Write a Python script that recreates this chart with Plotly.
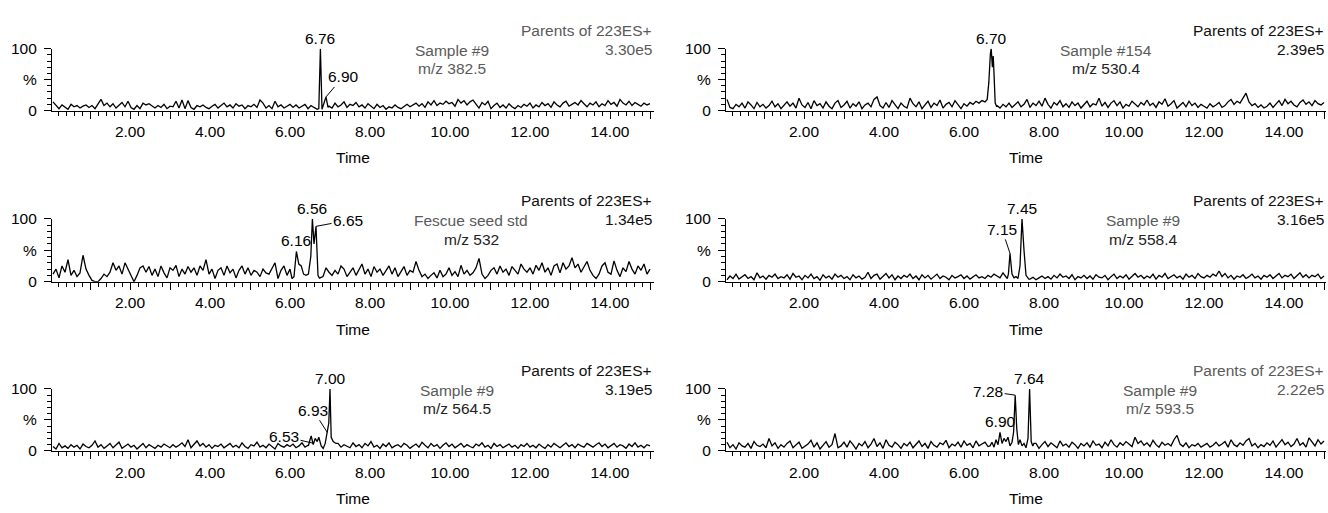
import plotly.graph_objects as go

W, H = 1328, 513

# ---------------- data ----------------
time_grid = [round(0.075 * i, 3) for i in range(1, 201)]

noise_382 = [14, 8, 3, 9, 5, 2, 10, 6, 8, 4, 7, 9, 5, 8, 3, 10, 18, 8, 12, 6,
             11, 4, 9, 13, 6, 15, 5, 2, 8, 3, 12, 9, 11, 7, 4, 8, 5, 10, 3, 7,
             6, 15, 4, 17, 3, 16, 5, 2, 8, 6, 9, 5, 3, 7, 10, 4, 8, 12, 6, 9,
             4, 11, 7, 9, 3, 8, 6, 10, 5, 17, 12, 4, 8, 3, 15, 6, 9, 4, 7, 10,
             5, 9, 4, 7, 10, 3, 8, 5, 0, 0, 0, 0, 7, 4, 12, 6, 9, 14, 5, 10,
             8, 13, 6, 9, 4, 11, 7, 3, 10, 5, 8, 2, 6, 4, 9, 5, 3, 7, 10, 6,
             9, 12, 7, 11, 5, 14, 9, 16, 8, 12, 10, 15, 11, 13, 7, 18, 12, 16, 9, 14,
             17, 10, 4, 13, 9, 15, 3, 8, 12, 5, 9, 4, 11, 6, 3, 8, 5, 10, 7, 12,
             4, 9, 6, 13, 8, 11, 5, 14, 9, 6, 12, 15, 7, 10, 13, 9, 16, 11, 6, 12,
             9, 14, 6, 11, 8, 16, 10, 13, 7, 18, 12, 9, 15, 8, 13, 10, 7, 12, 9, 11]
peak_t_382 = [6.64, 6.68, 6.72, 6.76, 6.80, 6.85, 6.90, 6.95]
peak_v_382 = [4, 2, 3, 100, 2, 14, 22, 5]

noise_530 = [18, 5, 3, 10, 6, 12, 4, 14, 9, 3, 13, 6, 10, 4, 8, 15, 6, 11, 3, 9,
             14, 7, 12, 4, 20, 9, 5, 13, 3, 16, 8, 11, 4, 14, 7, 3, 12, 16, 5, 9,
             15, 4, 11, 7, 14, 3, 9, 12, 6, 18, 22, 8, 4, 13, 5, 16, 10, 3, 12, 7,
             4, 20, 11, 6, 14, 3, 9, 15, 5, 12, 8, 17, 4, 10, 13, 6, 16, 9, 3, 11,
             7, 13, 10, 15, 12, 16, 14, 0, 0, 0, 8, 4, 10, 6, 12, 5, 9, 14, 6, 10,
             18, 5, 12, 8, 15, 7, 20, 10, 4, 13, 9, 16, 6, 11, 5, 14, 8, 12, 4, 10,
             15, 6, 11, 9, 20, 7, 13, 5, 12, 16, 8, 14, 4, 10, 7, 15, 11, 6, 13, 9,
             17, 8, 12, 5, 14, 10, 19, 7, 11, 16, 4, 9, 13, 6, 15, 8, 12, 5, 10, 7,
             4, 11, 6, 9, 13, 5, 8, 14, 18, 10, 15, 12, 20, 28, 14, 8, 11, 5, 9, 4,
             7, 12, 5, 10, 16, 8, 18, 11, 15, 9, 6, 13, 17, 10, 14, 8, 16, 11, 9, 13]
peak_t_530 = [6.58, 6.62, 6.66, 6.68, 6.71, 6.73, 6.75, 6.78, 6.82]
peak_v_530 = [18, 45, 92, 100, 70, 88, 60, 12, 6]

noise_532 = [12, 20, 6, 25, 15, 35, 10, 18, 8, 14, 42, 20, 10, 2, 0, 0, 5, 12, 8, 15,
             30, 18, 25, 12, 30, 20, 8, 0, 10, 22, 25, 15, 24, 10, 20, 8, 25, 14, 6, 22,
             18, 26, 8, 20, 12, 24, 15, 22, 10, 25, 18, 35, 12, 20, 5, 18, 22, 10, 25, 14,
             20, 6, 18, 25, 12, 22, 10, 18, 15, 8, 20, 14, 12, 22, 30, 5, 18, 25, 10, 20,
             0, 0, 0, 0, 0, 0, 0, 0, 0, 6, 8, 22, 15, 10, 18, 12, 25, 20, 8, 15,
             22, 10, 18, 28, 12, 20, 8, 24, 15, 20, 10, 18, 25, 12, 22, 8, 16, 24, 10, 18,
             15, 32, 18, 8, 12, 5, 10, 14, 6, 18, 8, 12, 22, 10, 16, 8, 26, 12, 18, 10,
             14, 22, 37, 12, 5, 10, 18, 22, 12, 25, 15, 20, 10, 24, 18, 12, 28, 20, 15, 22,
             12, 26, 18, 30, 15, 22, 10, 25, 28, 14, 30, 20, 25, 38, 22, 28, 15, 24, 32, 18,
             10, 5, 12, 25, 30, 15, 12, 33, 18, 8, 22, 16, 32, 20, 12, 25, 18, 28, 12, 20]
peak_t_532 = [6.05, 6.10, 6.16, 6.22, 6.28, 6.34, 6.40, 6.46, 6.52, 6.56, 6.60, 6.65, 6.70, 6.74]
peak_v_532 = [5, 8, 48, 28, 25, 12, 10, 12, 40, 100, 60, 88, 10, 5]

noise_558 = [3, 9, 5, 12, 4, 7, 11, 5, 8, 3, 14, 6, 9, 4, 10, 7, 12, 5, 8, 6,
             11, 4, 13, 7, 9, 3, 10, 6, 12, 5, 8, 2, 11, 6, 9, 4, 12, 7, 10, 5,
             8, 3, 11, 6, 9, 4, 7, 15, 5, 10, 12, 4, 8, 13, 6, 11, 3, 9, 5, 10,
             7, 12, 5, 9, 3, 11, 6, 10, 4, 8, 12, 5, 9, 7, 3, 10, 6, 8, 11, 5,
             9, 4, 7, 11, 6, 8, 5, 10, 7, 12, 9, 6, 14, 8, 0, 0, 0, 0, 0, 0,
             0, 4, 7, 3, 6, 9, 5, 8, 4, 10, 6, 12, 7, 9, 5, 11, 3, 8, 6, 10,
             5, 9, 4, 11, 7, 6, 10, 3, 8, 12, 5, 9, 6, 11, 4, 8, 13, 7, 10, 5,
             9, 6, 12, 4, 10, 7, 13, 5, 8, 11, 6, 9, 4, 12, 7, 10, 5, 13, 8, 6,
             10, 7, 12, 9, 17, 8, 13, 6, 10, 4, 9, 7, 11, 5, 8, 12, 6, 9, 4, 10,
             7, 11, 5, 9, 13, 6, 10, 8, 12, 5, 9, 14, 7, 11, 6, 10, 8, 12, 5, 9]
peak_t_558 = [7.08, 7.11, 7.15, 7.20, 7.25, 7.30, 7.35, 7.40, 7.45, 7.50, 7.55, 7.62]
peak_v_558 = [5, 12, 45, 12, 6, 8, 5, 25, 100, 50, 10, 4]

noise_564 = [7, 3, 12, 5, 8, 4, 10, 6, 9, 3, 11, 7, 5, 9, 16, 6, 10, 4, 8, 12,
             5, 9, 14, 4, 7, 11, 6, 9, 3, 8, 12, 5, 10, 7, 4, 9, 6, 11, 8, 5,
             10, 6, 9, 13, 7, 18, 5, 11, 16, 8, 12, 6, 10, 4, 9, 7, 11, 5, 8, 12,
             6, 9, 5, 13, 7, 4, 10, 8, 14, 6, 9, 5, 11, 7, 3, 12, 8, 6, 10, 7,
             11, 5, 8, 13, 6, 9, 0, 0, 0, 0, 0, 0, 0, 0, 0, 12, 6, 10, 8, 5,
             13, 7, 10, 5, 12, 8, 15, 6, 9, 4, 11, 7, 13, 5, 8, 10, 6, 12, 9, 4,
             8, 11, 6, 14, 9, 5, 12, 7, 10, 4, 9, 13, 7, 11, 5, 8, 12, 6, 10, 7,
             5, 11, 8, 13, 6, 9, 4, 12, 7, 10, 5, 8, 11, 6, 9, 4, 10, 7, 12, 6,
             9, 5, 11, 7, 4, 10, 6, 12, 8, 5, 9, 13, 7, 10, 5, 11, 8, 6, 12, 9,
             6, 10, 13, 7, 11, 5, 9, 12, 6, 10, 8, 4, 11, 7, 13, 6, 9, 5, 10, 8]
peak_t_564 = [6.46, 6.50, 6.53, 6.58, 6.63, 6.68, 6.72, 6.78, 6.83, 6.88, 6.93, 6.97, 7.00, 7.03, 7.08, 7.15]
peak_v_564 = [8, 18, 24, 10, 20, 15, 22, 8, 4, 12, 30, 45, 100, 22, 15, 12]

noise_593 = [14, 5, 10, 3, 13, 8, 6, 12, 4, 15, 9, 7, 11, 5, 20, 8, 13, 4, 10, 6,
             12, 16, 5, 10, 14, 4, 8, 11, 17, 6, 13, 3, 9, 15, 6, 10, 28, 5, 8, 14,
             6, 16, 10, 3, 12, 8, 15, 5, 11, 20, 7, 13, 4, 18, 9, 6, 14, 10, 4, 12,
             8, 14, 5, 11, 16, 7, 12, 4, 15, 9, 6, 13, 10, 17, 5, 11, 8, 14, 6, 16,
             9, 12, 5, 16, 8, 11, 14, 7, 0, 0, 0, 0, 0, 0, 0, 0, 0, 0, 0, 0,
             0, 0, 0, 12, 4, 10, 15, 7, 13, 9, 5, 16, 8, 11, 6, 14, 10, 4, 12, 8,
             13, 6, 16, 9, 11, 5, 14, 8, 18, 10, 6, 13, 9, 15, 11, 7, 22, 12, 16, 9,
             13, 7, 17, 10, 6, 14, 9, 12, 8, 18, 25, 11, 7, 13, 5, 10, 8, 12, 6, 9,
             12, 6, 9, 14, 8, 11, 15, 6, 18, 10, 7, 13, 9, 16, 20, 8, 12, 5, 10, 7,
             13, 9, 16, 6, 12, 18, 10, 14, 7, 11, 20, 9, 13, 6, 21, 14, 8, 18, 11, 16]
peak_t_593 = [6.65, 6.70, 6.75, 6.80, 6.85, 6.90, 6.95, 7.00, 7.05, 7.10, 7.15, 7.20, 7.24,
              7.28, 7.32, 7.36, 7.40, 7.45, 7.50, 7.55, 7.60, 7.64, 7.68, 7.72, 7.75]
peak_v_593 = [8, 14, 6, 18, 10, 30, 12, 20, 15, 22, 8, 14, 30,
              90, 35, 10, 18, 8, 12, 5, 20, 100, 15, 8, 12]

x_tick_labels = ["", "2.00", "", "4.00", "", "6.00", "", "8.00", "", "10.00", "", "12.00", "", "14.00", ""]
y_tick_labels = ["0", "%", "100"]

titles_parents = ["Parents of 223ES+"] * 6
intensities = ["3.30e5", "2.39e5", "1.34e5", "3.16e5", "3.19e5", "2.22e5"]
sample_names = ["Sample #9", "Sample #154", "Fescue seed std", "Sample #9", "Sample #9", "Sample #9"]
mz_labels = ["m/z 382.5", "m/z 530.4", "m/z 532", "m/z 558.4", "m/z 564.5", "m/z 593.5"]

# ---------------- layout helpers ----------------
FONT = "Liberation Sans, Arial, Helvetica, sans-serif"
FS = 15.5
GRAY = "#5a5a5a"
BLK = "#111111"


def merge(noise, pt, pv):
    assert len(noise) == len(time_grid), len(noise)
    lo, hi = min(pt), max(pt)
    pts = [(t, v) for t, v in zip(time_grid, noise) if t < lo - 1e-9 or t > hi + 1e-9]
    pts += list(zip(pt, pv))
    pts.sort()
    return [p[0] for p in pts], [p[1] for p in pts]


def py(pix):
    return 1 - pix / H


def px(pix):
    return pix / W


cols = [(52, 654, 15.1), (726, 1326, 15.05)]
rows = [(41, 105), (217, 282), (393, 457)]

panels = [
    (noise_382, peak_t_382, peak_v_382, 0, 0),
    (noise_530, peak_t_530, peak_v_530, 0, 1),
    (noise_532, peak_t_532, peak_v_532, 1, 0),
    (noise_558, peak_t_558, peak_v_558, 1, 1),
    (noise_564, peak_t_564, peak_v_564, 2, 0),
    (noise_593, peak_t_593, peak_v_593, 2, 1),
]

fig = go.Figure()
layout = dict(width=W, height=H, margin=dict(l=0, r=0, t=0, b=0),
              paper_bgcolor="white", plot_bgcolor="white", showlegend=False,
              font=dict(family=FONT, size=FS, color="black"))
annotations = []

text_cols = [
    (GRAY, GRAY, GRAY, GRAY),
    (BLK, BLK, GRAY, "#222"),
    (BLK, BLK, GRAY, "#222"),
    (BLK, BLK, GRAY, "#222"),
    (BLK, BLK, GRAY, "#222"),
    (GRAY, GRAY, GRAY, GRAY),
]
sample_pos = [(452, 43, 62), (1106, 43, 62), (471, 219, 238), (1143, 219, 238), (457, 395, 413), (1160, 395, 413)]

for i, (noise, pt, pv, r, c) in enumerate(panels):
    n = i + 1
    xs, ys = merge(noise, pt, pv)
    xa = "x" if n == 1 else f"x{n}"
    ya = "y" if n == 1 else f"y{n}"
    fig.add_trace(go.Scatter(x=xs, y=ys, mode="lines", xaxis=xa, yaxis=ya,
                             line=dict(color="black", width=1.3), hoverinfo="skip"))
    xl, xr, xmax = cols[c]
    yt, yb = rows[r]
    layout[f"xaxis{'' if n == 1 else n}"] = dict(
        domain=[px(xl), px(xr)], range=[0.05, xmax], anchor=ya,
        showline=True, linecolor="black", linewidth=1.2, showgrid=False, zeroline=False,
        ticks="outside", ticklen=7, tickwidth=1.2, tickcolor="black",
        tickmode="array", tickvals=list(range(1, 16)), ticktext=x_tick_labels,
        minor=dict(tickmode="linear", tick0=0, dtick=0.2, ticks="outside", ticklen=4,
                   tickwidth=1, tickcolor="black", showgrid=False),
        tickfont=dict(family=FONT, size=FS, color="black"),
    )
    layout[f"yaxis{'' if n == 1 else n}"] = dict(
        domain=[py(yb), py(yt)], range=[0, 100], anchor=xa,
        showline=True, linecolor="black", linewidth=1.2, showgrid=False, zeroline=False,
        ticks="outside", ticklen=7, tickwidth=1.2, tickcolor="black",
        tickmode="array", tickvals=[0, 50, 100], ticktext=y_tick_labels,
        minor=dict(tickmode="linear", tick0=0, dtick=10, ticks="outside", ticklen=4,
                   tickwidth=1, tickcolor="black", showgrid=False),
        tickfont=dict(family=FONT, size=FS, color="black"),
        ticklabelstandoff=4,
    )
    annotations.append(dict(text="Time", x=px((xl + xr) / 2), y=py(yb + 49), xref="paper", yref="paper",
                            showarrow=False, xanchor="center", yanchor="middle",
                            font=dict(family=FONT, size=FS, color="black")))
    pc, ic, sc, mc = text_cols[i]
    annotations.append(dict(text=titles_parents[i], x=px(xr), y=py(yt - 19), xref="paper", yref="paper",
                            showarrow=False, xanchor="right", yanchor="middle",
                            font=dict(family=FONT, size=FS, color=pc)))
    annotations.append(dict(text=intensities[i], x=px(xr), y=py(yt + 1), xref="paper", yref="paper",
                            showarrow=False, xanchor="right", yanchor="middle",
                            font=dict(family=FONT, size=FS, color=ic)))
    sx, sy1, sy2 = sample_pos[i]
    annotations.append(dict(text=sample_names[i], x=px(sx), y=py(sy1), xref="paper", yref="paper",
                            showarrow=False, xanchor="center", yanchor="middle",
                            font=dict(family=FONT, size=FS, color=sc)))
    annotations.append(dict(text=mz_labels[i], x=px(sx), y=py(sy2), xref="paper", yref="paper",
                            showarrow=False, xanchor="center", yanchor="middle",
                            font=dict(family=FONT, size=FS, color=mc)))

peak_labels = [
    (1, "6.76", 6.76, 100, None, None),
    (1, "6.90", 6.90, 22, 17, -20),
    (2, "6.70", 6.68, 100, None, None),
    (3, "6.56", 6.56, 100, None, None),
    (3, "6.65", 6.65, 88, 32, -6),
    (3, "6.16", 6.16, 48, None, None),
    (4, "7.45", 7.45, 100, None, None),
    (4, "7.15", 7.15, 45, -8, -24),
    (5, "7.00", 7.00, 100, None, None),
    (5, "6.93", 6.93, 30, -14, -22),
    (5, "6.53", 6.60, 12, -30, -7),
    (6, "7.64", 7.64, 100, None, None),
    (6, "7.28", 7.28, 90, -27, -4),
    (6, "6.90", 6.90, 30, None, None),
]
for n, lab, x, y, ax, ay in peak_labels:
    xa = "x" if n == 1 else f"x{n}"
    ya = "y" if n == 1 else f"y{n}"
    if ax is None:
        annotations.append(dict(text=lab, x=x, y=y, xref=xa, yref=ya, showarrow=False,
                                xanchor="center", yanchor="bottom",
                                font=dict(family=FONT, size=FS, color="black")))
    else:
        annotations.append(dict(text=lab, x=x, y=y, xref=xa, yref=ya, showarrow=True,
                                ax=ax, ay=ay, arrowhead=0, arrowwidth=1, arrowcolor="black",
                                standoff=0, startstandoff=0,
                                font=dict(family=FONT, size=FS, color="black")))

layout["annotations"] = annotations
fig.update_layout(**layout)
fig.write_html("out.html")
